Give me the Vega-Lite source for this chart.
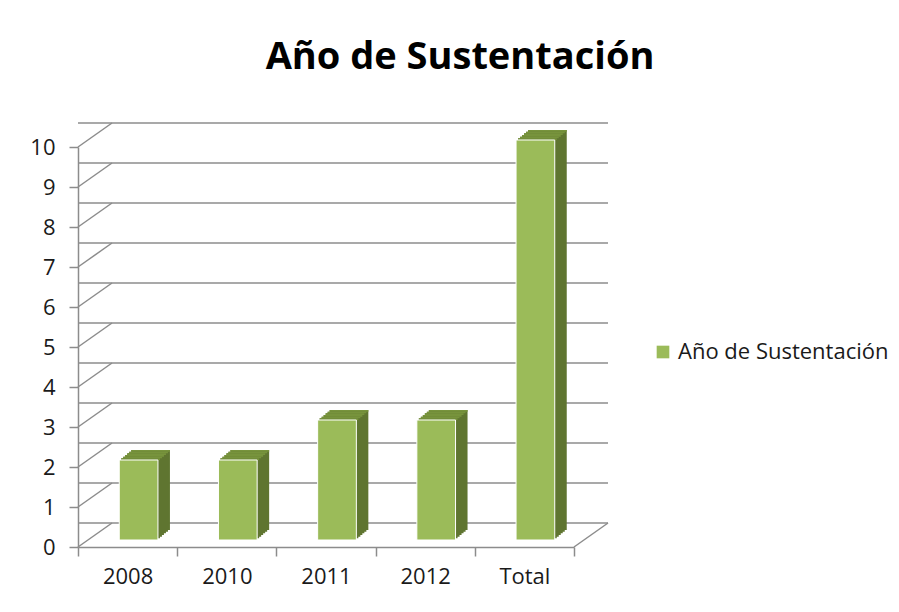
{
  "$schema": "https://vega.github.io/schema/vega-lite/v6.json",
  "width": 496,
  "height": 400,
  "autosize": {"type": "none"},
  "padding": {"left": 78, "top": 147, "right": 325, "bottom": 65},
  "background": "white",
  "config": {"view": {"stroke": null}, "font": "Open Sans"},
  "title": {"text": "Año de Sustentación", "fontSize": 38, "fontWeight": "bold", "color": "#000000", "dx": 134, "offset": 15, "baseline": "alphabetic", "anchor": "middle"},
  "datasets": {
    "bars": [
      {"year": "2008", "value": 2},
      {"year": "2010", "value": 2},
      {"year": "2011", "value": 3},
      {"year": "2012", "value": 3},
      {"year": "Total", "value": 10}
    ],
    "grid": [
      {"v": 0}, {"v": 1}, {"v": 2}, {"v": 3}, {"v": 4}, {"v": 5},
      {"v": 6}, {"v": 7}, {"v": 8}, {"v": 9}, {"v": 10}
    ]
  },
  "data": {"name": "bars"},
  "encoding": {
    "x": {"field": "year", "type": "nominal", "sort": null,
      "scale": {"domain": ["2008", "2010", "2011", "2012", "Total"], "paddingInner": 0, "paddingOuter": 0},
      "axis": {"title": null, "labelAngle": 0, "labelFontSize": 22, "labelColor": "#1a1a1a", "labelPadding": 10,
        "domainColor": "#8c8c8c", "domainWidth": 1.5, "tickColor": "#8c8c8c", "tickWidth": 1.5, "tickSize": 9, "tickBand": "extent", "grid": false}},
    "y": {"type": "quantitative",
      "scale": {"domain": [0, 10], "nice": false},
      "axis": {"title": null, "values": [0,1,2,3,4,5,6,7,8,9,10], "labelFontSize": 22, "labelColor": "#1a1a1a", "labelPadding": 14,
        "domainColor": "#8c8c8c", "domainWidth": 1.5, "tickColor": "#8c8c8c", "tickWidth": 1.5, "tickSize": 9, "grid": false}}
  },
  "layer": [
    {
      "data": {"name": "grid"},
      "mark": {"type": "rule", "color": "#8c8c8c", "strokeWidth": 1.5, "xOffset": 34, "yOffset": -24},
      "encoding": {"y": {"field": "v", "type": "quantitative"}, "x": null}
    },
    {
      "data": {"name": "grid"},
      "mark": {"type": "rule", "color": "#8c8c8c", "strokeWidth": 1.5, "x2Offset": 34, "y2Offset": -24},
      "encoding": {
        "x": {"datum": "2008", "bandPosition": 0},
        "x2": {"datum": "2008", "bandPosition": 0},
        "y": {"field": "v", "type": "quantitative"},
        "y2": {"field": "v"}
      }
    },
    {
      "data": {"values": [{"year": "Total", "v": 0}]},
      "mark": {"type": "rule", "color": "#8c8c8c", "strokeWidth": 1.5, "x2Offset": 34, "y2Offset": -24},
      "encoding": {
        "x": {"field": "year", "type": "nominal", "bandPosition": 1},
        "x2": {"field": "year", "bandPosition": 1},
        "y": {"field": "v", "type": "quantitative"},
        "y2": {"field": "v"}
      }
    },
    {"mark": {"type": "bar", "color": "#5f7530", "width": {"band": 0.39}, "xOffset": 13, "yOffset": -8.7, "y2Offset": -8.7},
      "encoding": {"y": {"field": "value", "type": "quantitative"}, "y2": {"datum": 0}}},
    {"mark": {"type": "bar", "color": "#5f7530", "width": {"band": 0.39}, "xOffset": 15, "yOffset": -10.3, "y2Offset": -10.3},
      "encoding": {"y": {"field": "value", "type": "quantitative"}, "y2": {"datum": 0}}},
    {"mark": {"type": "bar", "color": "#5f7530", "width": {"band": 0.39}, "xOffset": 17, "yOffset": -12, "y2Offset": -12},
      "encoding": {"y": {"field": "value", "type": "quantitative"}, "y2": {"datum": 0}}},
    {"mark": {"type": "bar", "color": "#5f7530", "width": {"band": 0.39}, "xOffset": 19, "yOffset": -13.7, "y2Offset": -13.7},
      "encoding": {"y": {"field": "value", "type": "quantitative"}, "y2": {"datum": 0}}},
    {"mark": {"type": "bar", "color": "#5f7530", "width": {"band": 0.39}, "xOffset": 21, "yOffset": -15.3, "y2Offset": -15.3},
      "encoding": {"y": {"field": "value", "type": "quantitative"}, "y2": {"datum": 0}}},
    {"mark": {"type": "bar", "color": "#5f7530", "width": {"band": 0.39}, "xOffset": 23, "yOffset": -17, "y2Offset": -17},
      "encoding": {"y": {"field": "value", "type": "quantitative"}, "y2": {"datum": 0}}},
    {"mark": {"type": "bar", "color": "#77933c", "width": {"band": 0.39}, "xOffset": 13, "yOffset": -8.7, "y2Offset": -7},
      "encoding": {"y": {"field": "value", "type": "quantitative"}, "y2": {"field": "value"}}},
    {"mark": {"type": "bar", "color": "#77933c", "width": {"band": 0.39}, "xOffset": 15, "yOffset": -10.3, "y2Offset": -8.7},
      "encoding": {"y": {"field": "value", "type": "quantitative"}, "y2": {"field": "value"}}},
    {"mark": {"type": "bar", "color": "#77933c", "width": {"band": 0.39}, "xOffset": 17, "yOffset": -12, "y2Offset": -10.3},
      "encoding": {"y": {"field": "value", "type": "quantitative"}, "y2": {"field": "value"}}},
    {"mark": {"type": "bar", "color": "#77933c", "width": {"band": 0.39}, "xOffset": 19, "yOffset": -13.7, "y2Offset": -12},
      "encoding": {"y": {"field": "value", "type": "quantitative"}, "y2": {"field": "value"}}},
    {"mark": {"type": "bar", "color": "#77933c", "width": {"band": 0.39}, "xOffset": 21, "yOffset": -15.3, "y2Offset": -13.7},
      "encoding": {"y": {"field": "value", "type": "quantitative"}, "y2": {"field": "value"}}},
    {"mark": {"type": "bar", "color": "#77933c", "width": {"band": 0.39}, "xOffset": 23, "yOffset": -17, "y2Offset": -15.3},
      "encoding": {"y": {"field": "value", "type": "quantitative"}, "y2": {"field": "value"}}},
    {"mark": {"type": "bar", "width": {"band": 0.39}, "xOffset": 11, "yOffset": -7, "y2Offset": -7, "stroke": "#ffffff", "strokeWidth": 1},
      "encoding": {
        "y": {"field": "value", "type": "quantitative"},
        "y2": {"datum": 0},
        "color": {"datum": "Año de Sustentación", "type": "nominal",
          "scale": {"range": ["#9bbb59"]},
          "legend": {"title": null, "orient": "none", "legendX": 574, "legendY": 194, "padding": 0, "labelLimit": 0,
            "symbolType": "square", "symbolSize": 160, "symbolStrokeWidth": 0, "labelFontSize": 22, "labelColor": "#1a1a1a", "labelOffset": 4}}
      }}
  ]
}
